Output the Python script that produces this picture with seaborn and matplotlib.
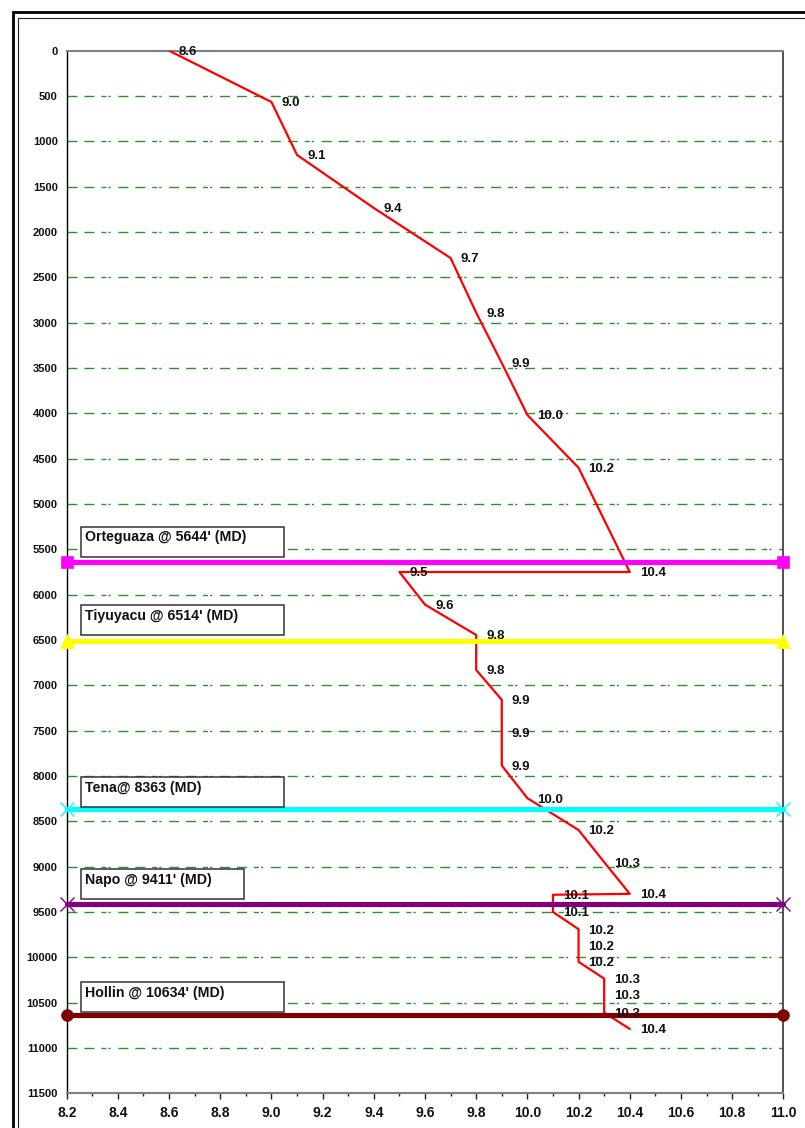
import numpy as np
import matplotlib
matplotlib.use("Agg")
import matplotlib.pyplot as plt
from matplotlib.patches import Rectangle
from matplotlib.lines import Line2D
from matplotlib.ticker import MultipleLocator, FormatStrFormatter
import seaborn as sns

# ---------------- data ----------------
mud_weight = [8.6, 9.0, 9.1, 9.4, 9.7, 9.8, 9.9, 10.0, 10.2, 10.4,
              9.5, 9.6, 9.8, 9.8, 9.9, 9.9, 9.9, 10.0, 10.2, 10.3,
              10.4, 10.1, 10.1, 10.2, 10.2, 10.2, 10.3, 10.3, 10.3, 10.4]
depth = [0, 566, 1150, 1735, 2287, 2890, 3445, 4018, 4600, 5750,
         5750, 6110, 6445, 6830, 7160, 7525, 7885, 8245, 8596, 8950,
         9300, 9310, 9500, 9690, 9870, 10050, 10235, 10415, 10610, 10790]

formation_names = ["Orteguaza @ 5644' (MD)", "Tiyuyacu @ 6514' (MD)",
                   "Tena@ 8363 (MD)", "Napo @ 9411' (MD)", "Hollin @ 10634' (MD)"]
formation_depth = [5644, 6514, 8363, 9411, 10634]
formation_color = ["#FF00FF", "#FFFF00", "#00FFFF", "#800080", "#800000"]
formation_marker = ["s", "^", "x", "x", "o"]

x_ticks = [8.2, 8.4, 8.6, 8.8, 9.0, 9.2, 9.4, 9.6, 9.8, 10.0, 10.2, 10.4, 10.6, 10.8, 11.0]
y_ticks = list(range(0, 11501, 500))

# ---------------- layout ----------------
W, H = 805, 1128
sns.set_style("white")
plt.rcParams["font.family"] = ["Liberation Sans", "DejaVu Sans"]

fig = plt.figure(figsize=(W / 100, H / 100), dpi=100)
L, R, T, B = 66.7, 783.3, 50.7, 1093.3
ax = fig.add_axes([L / W, 1 - B / H, (R - L) / W, (B - T) / H])

# grid lines (green long-dash / dash-dot pattern)
grid_dash = (0, (7.2, 5.0, 7.2, 5.0, 3.6, 1.5, 1.6, 5.5))
for yv in y_ticks[1:-1]:
    ax.axhline(yv, color="#2a922a", lw=1.0, linestyle=grid_dash, zorder=1)

# mud weight line
sns.lineplot(x=mud_weight, y=depth, sort=False, estimator=None, ax=ax,
             color="#FF0000", lw=1.6, zorder=3)

# formation tops
marker_size = {"s": 8.0, "^": 9.5, "x": 9.5, "o": 8.5}
for d, c, m in zip(formation_depth, formation_color, formation_marker):
    sns.lineplot(x=[x_ticks[0], x_ticks[-1]], y=[d, d], ax=ax, color=c, lw=3.7,
                 marker=m, ms=marker_size[m], mew=1.0 if m == "x" else 0.5,
                 mec=c, mfc=c, clip_on=False, zorder=4)

# data labels
for v, d in zip(mud_weight, depth):
    ax.annotate(f"{v:.1f}", (v, d), xytext=(7.2, -1.0), textcoords="offset points",
                ha="left", va="center", fontsize=9.5, fontweight="bold",
                color="#111111", zorder=6, annotation_clip=False)

# formation label boxes (data-coordinate geometry)
box_top = [5250, 6114, 8015, 9029, 10276]
box_right = [9.049, 9.049, 9.049, 8.892, 9.049]
box_x0 = 8.255
for name, top, xr in zip(formation_names, box_top, box_right):
    ax.add_patch(Rectangle((box_x0, top), xr - box_x0, 330, facecolor="white",
                           edgecolor="#333333", lw=1.1, zorder=5))
    ax.text(8.2715, top + 160, name, ha="left", va="baseline", fontsize=10.2,
            fontweight="bold", color="#111111", zorder=6)

# axes
ax.set_xlim(8.2, 11.0)
ax.set_ylim(11500, 0)
ax.set_xticks(x_ticks)
ax.xaxis.set_minor_locator(MultipleLocator(0.1))
ax.xaxis.set_major_formatter(FormatStrFormatter("%.1f"))
ax.set_yticks(y_ticks)
ax.set_xlabel("")
ax.set_ylabel("")
ax.tick_params(axis="x", which="major", direction="out", length=4.5, width=1.0,
               color="#222222", pad=5.0, labelsize=10, bottom=True)
ax.tick_params(axis="x", which="minor", direction="out", length=2.5, width=1.0,
               color="#222222", bottom=True)
ax.tick_params(axis="y", length=0, pad=6.5, labelsize=8)
for lab in ax.get_xticklabels() + ax.get_yticklabels():
    lab.set_fontweight("bold")
    lab.set_color("#111111")

ax.spines["top"].set_color("#808080")
ax.spines["top"].set_linewidth(1.5)
ax.spines["bottom"].set_color("#808080")
ax.spines["bottom"].set_linewidth(1.5)
ax.spines["left"].set_color("#000000")
ax.spines["left"].set_linewidth(1.0)
ax.spines["right"].set_color("#333333")
ax.spines["right"].set_linewidth(1.2)
ax.set_facecolor("white")

# outer double frame
def fx(p):
    return p / W

def fy(p):
    return 1 - p / H

fig.add_artist(Line2D([fx(13.4), fx(13.4), fx(806)], [fy(1130), fy(11.9), fy(11.9)],
                      transform=fig.transFigure, color="black", lw=2.0,
                      solid_joinstyle="miter"))
fig.add_artist(Line2D([fx(17.8), fx(17.8), fx(806)], [fy(1130), fy(17.6), fy(17.6)],
                      transform=fig.transFigure, color="#222222", lw=0.8,
                      solid_joinstyle="miter"))

fig.savefig("out.png", dpi=100)
